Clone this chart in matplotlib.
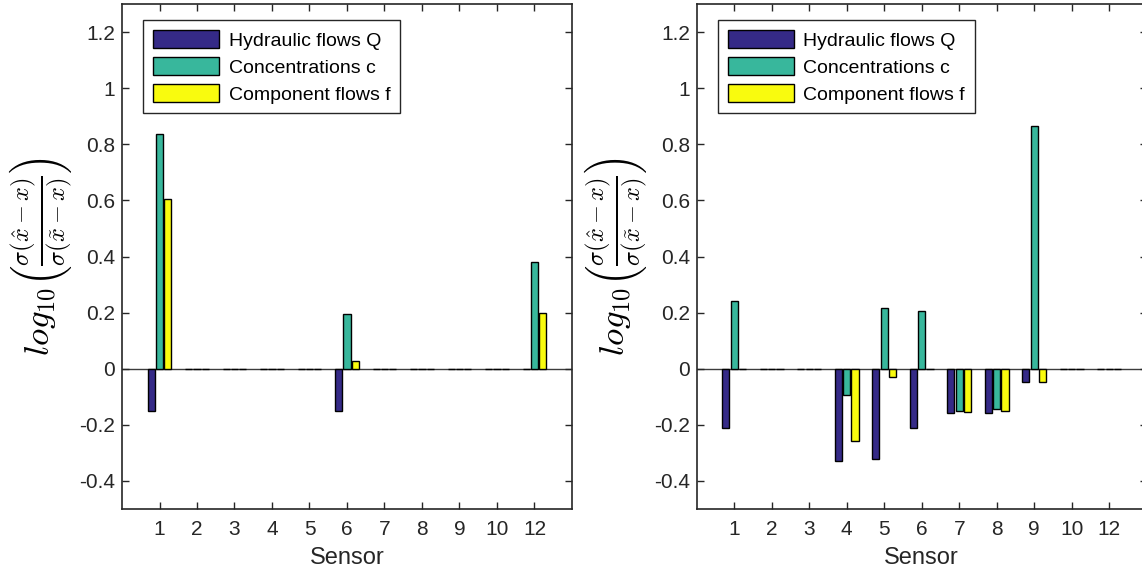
import matplotlib.pyplot as plt
import numpy as np

sensors = ["1", "2", "3", "4", "5", "6", "7", "8", "9", "10", "12"]
series_names = ["Hydraulic flows Q", "Concentrations c", "Component flows f"]
colors = ["#352a87", "#38b79c", "#f9fb0e"]

# left panel
left_q = [-0.15, 0, 0, 0, 0, -0.15, 0, 0, 0, 0, 0]
left_c = [0.837, 0, 0, 0, 0, 0.195, 0, 0, 0, 0, 0.38]
left_f = [0.604, 0, 0, 0, 0, 0.028, 0, 0, 0, 0, 0.2]

# right panel
right_q = [-0.211, 0, 0, -0.328, -0.32, -0.21, -0.158, -0.158, -0.048, 0, 0]
right_c = [0.24, 0, 0, -0.093, 0.218, 0.206, -0.151, -0.145, 0.865, 0, 0]
right_f = [0, 0, 0, -0.258, -0.03, 0, -0.155, -0.151, -0.048, 0, 0]

yticks = [-0.4, -0.2, 0, 0.2, 0.4, 0.6, 0.8, 1, 1.2]
ytick_labels = ["-0.4", "-0.2", "0", "0.2", "0.4", "0.6", "0.8", "1", "1.2"]

plt.rcParams["font.family"] = ["Liberation Sans", "DejaVu Sans"]
plt.rcParams["mathtext.fontset"] = "cm"

W, H = 1142, 578
fig = plt.figure(figsize=(W / 100, H / 100), dpi=100)
ax_l = fig.add_axes([122 / W, (H - 509) / H, 450 / W, 505 / H])
ax_r = fig.add_axes([696.7 / W, (H - 509) / H, 450 / W, 505 / H])

ylabel = r"$log_{10}\left(\frac{\sigma(\hat{x}-x)}{\sigma(\tilde{x}-x)}\right)$"
axis_color = "#262626"


def draw_panel(ax, q, c, f):
    x = np.arange(1, len(sensors) + 1)
    offsets = [-0.222, 0, 0.222]
    for vals, off, col, name in zip((q, c, f), offsets, colors, series_names):
        ax.bar(x + off, vals, width=0.19, color=col, edgecolor="black",
               linewidth=1.0, label=name, zorder=2)
    ax.axhline(0, color="#3c3c3c", linewidth=1.0, zorder=1)
    ax.set_xlim(0, 12)
    ax.set_ylim(-0.5, 1.3)
    ax.set_xticks(x)
    ax.set_xticklabels(sensors)
    ax.set_yticks(yticks)
    ax.set_yticklabels(ytick_labels)
    ax.tick_params(direction="in", top=True, right=True, length=5, width=1.0,
                   labelsize=15, colors=axis_color)
    ax.tick_params(axis="y", pad=5)
    ax.tick_params(axis="x", pad=8)
    for s in ax.spines.values():
        s.set_color(axis_color)
        s.set_linewidth(1.2)
    ax.set_xlabel("Sensor", fontsize=17, color=axis_color, labelpad=6)
    ax.set_ylabel(ylabel, fontsize=25, color="black", labelpad=3)
    leg = ax.legend(loc="upper left", bbox_to_anchor=(0.047, 0.968),
                    fontsize=14, handlelength=3.4, handleheight=1.05,
                    labelspacing=0.38, handletextpad=0.5, borderaxespad=0,
                    fancybox=False, edgecolor=axis_color, framealpha=1,
                    borderpad=0.5)
    leg.get_frame().set_linewidth(1.0)


draw_panel(ax_l, left_q, left_c, left_f)
draw_panel(ax_r, right_q, right_c, right_f)

fig.savefig("out.png", dpi=100, facecolor="white")
